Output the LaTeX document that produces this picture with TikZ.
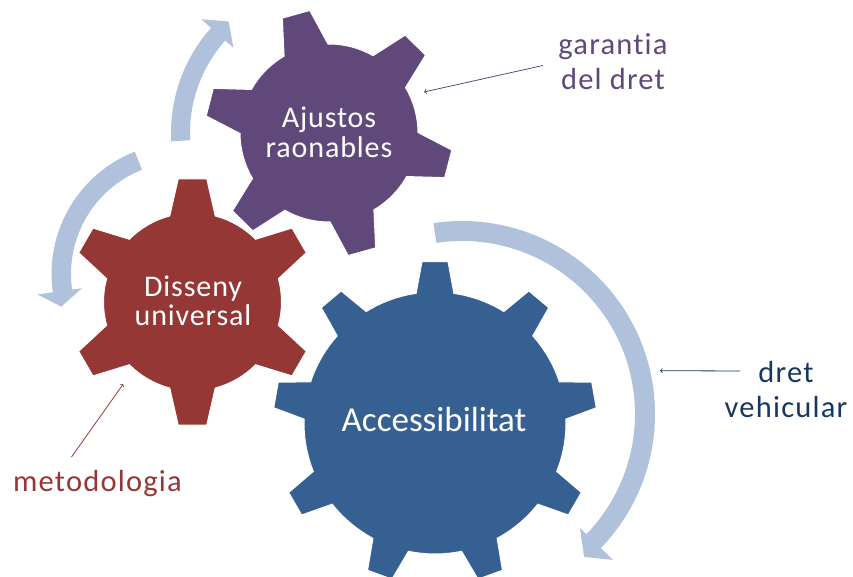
\documentclass[tikz,border=0pt]{standalone}
\usepackage{fontspec}
\setmainfont{Carlito}[Ligatures={NoCommon}]
\newfontfamily\gearfont{Carlito}[LetterSpace=3, Ligatures={NoCommon}]
\newfontfamily\labelfont{Carlito}[LetterSpace=4, Ligatures={NoCommon}]
\usetikzlibrary{calc}
\definecolor{gearblue}{RGB}{55,96,146}
\definecolor{gearred}{RGB}{149,55,53}
\definecolor{gearpurple}{RGB}{96,73,122}
\definecolor{arrowblue}{RGB}{176,193,220}
\definecolor{labelnavy}{RGB}{23,55,94}

% gear: centre, teeth, first tooth, body radius, tip radius, half angle at body, half angle at tip, colour
\newcommand{\gear}[8]{%
  \filldraw[fill=#8, draw=white, line width=1pt, shift={#1}]
    ({#3-#6}:#4)
    \foreach \k in {1,...,#2} {
      -- ({#3+(\k-1)*360/#2-#7}:#5) -- ({#3+(\k-1)*360/#2+#7}:#5)
      -- ({#3+(\k-1)*360/#2+#6}:#4)
      arc[start angle={#3+(\k-1)*360/#2+#6}, end angle={#3+\k*360/#2-#6}, radius=#4pt]
    } -- cycle;
}
% curved arrow: centre, inner r, outer r, start, end, tip angle, head inner r, head outer r, tip r
\newcommand{\circarrow}[9]{%
  \fill[arrowblue, shift={#1}]
    (#4:#2) arc[start angle=#4, end angle=#5, radius=#2pt]
    -- (#5:#7) -- (#6:#9) -- (#5:#8) -- (#5:#3)
    arc[start angle=#5, end angle=#4, radius=#3pt] -- cycle;
}

\tikzset{
  geartext/.style={text=white, align=center, font=\gearfont\fontsize{30}{29.5}\selectfont},
  labeltext/.style={align=center, font=\labelfont\fontsize{30.5}{35}\selectfont},
  pointer/.style={->, line width=0.8pt},
}

\begin{document}
\begin{tikzpicture}[x=1pt, y=1pt]
  \useasboundingbox (0,0) rectangle (853,577);
  \clip (0,0) rectangle (853,577);
  % arrows round the gears
  \circarrow{(462,163)}{173}{193}{98.5}{-44}{-49.5}{164}{210}{188}
  \circarrow{(329,444)}{139}{158}{183}{138.3}{132}{128}{171}{150}
  \circarrow{(183,303)}{112}{131.5}{111.5}{188}{195}{102}{147}{126}
  % gears
  \gear{(435,154)}{9}{90}{131}{162}{8.3}{4.6}{gearblue}
  \gear{(192.5,275)}{6}{90}{89}{124}{14.8}{6.6}{gearred}
  \gear{(329,444)}{6}{105.5}{89}{124}{14.8}{6.6}{gearpurple}
  % gear texts
  \node[geartext, font=\fontsize{35}{36}\selectfont] (access) at (434,158) {Accessibilitat};
  \node[geartext] (disseny) at (193,276) {Disseny\\universal};
  \node[geartext] (ajustos) at (329,444.5) {Ajustos\\raonables};
  % labels
  \node[labeltext, text=gearpurple] (garantia) at (613,515.5) {garantia\\del dret};
  \node[labeltext, text=labelnavy] (vehicular) at (786,187) {dret\\vehicular};
  \node[labeltext, text=gearred, anchor=base] (metodo) at (97.5,85.3) {metodologia};
  \coordinate (garantiaend) at (424,485);
  \coordinate (vehicularend) at (660,206.3);
  \coordinate (metodoend) at (123.3,193);
  \draw[pointer, gearpurple] ([xshift=-12pt, yshift=-4pt]garantia.west) -- (garantiaend);
  \draw[pointer, labelnavy] ([xshift=19pt, yshift=19pt]vehicular.west) -- (vehicularend);
  \draw[pointer, gearred] ([xshift=-26pt, yshift=10pt]metodo.north) -- (metodoend);
\end{tikzpicture}
\end{document}
